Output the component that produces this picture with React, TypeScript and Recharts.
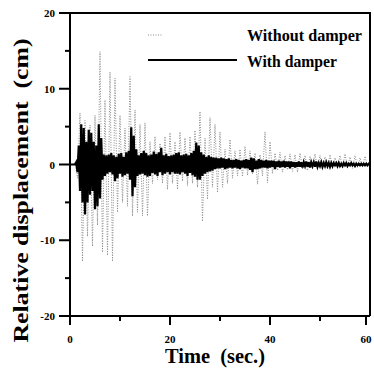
import { LineChart, Line, XAxis, YAxis, Legend, Label } from "recharts";

// time step of each record (s)
const STEP_WITHOUT = 0.5;
const STEP_WITH = 0.25;

const SERIES = ["Without damper", "With damper"];
const X_TICKS = [0, 10, 20, 30, 40, 50, 60];
const Y_TICKS = [-20, -15, -10, -5, 0, 5, 10, 15, 20];

// relative displacement (cm) without damper, every 0.5 s from t = 0
const withoutDamper = [
    0, 0, 0.2, -1.8, 6.8, -12.8, 5.8, -9.5, 5.2, -10.8,
    6.5, -8, 14.9, -11.6, 8.5, -12, 12.2, -12.8, 11.4, -6.3,
    6.5, -5, 4.8, -5.5, 11.6, -6.8, 7.2, -6.3, 5.3, -6.8,
    5.5, -6.8, 3, -2.5, 3.7, -2, 2.8, -2.5, 3.7, -3.3,
    4.2, -2.5, 3, -3.3, 4.3, -2.2, 3.5, -2.8, 3.7, -2.5,
    4.5, -3, 7, -7.5, 3.5, -4.6, 6.2, -3, 5.3, -3.7,
    4.3, -3, 2, -2.5, 3.3, -1.8, 1.8, -1.5, 2, -1.6,
    2.4, -1.4, 1.8, -1.2, 1.5, -2.6, 1.3, -1.5, 4.3, -2.4,
    3, -1.2, 1.5, -0.8, 1.6, -1, 1.2, -0.7, 1.4, -0.9,
    1.3, -1, 1.5, -0.6, 1.2, -0.8, 1.1, -0.6, 1.4, -0.5,
    1.2, -0.5, 1, -0.6, 1.3, -0.5, 0.9, -0.4, 1.2, -0.5,
    1.4, -0.4, 1, -0.5, 1.2, -0.4, 0.9, -0.3, 1.1, -0.3,
    0.3,
];

// relative displacement (cm) with damper, every 0.25 s from t = 0
const withDamper = [
    0, 0, 0, 0, 0, 0.3, -1, 2.5, -3.5, 5.3,
    -5, 4.8, -6.6, 3, -5, 4.6, -4, 4.2, -3.5, 3,
    -5.9, 2.5, -5.5, 5.3, -4.5, 3.5, -2, 1.3, -1.5, 1.2,
    -1.2, 1.3, -1, 1.5, -1.3, 1.2, -2.2, 1, -1.8, 1.4,
    -1.2, 1.5, -1.6, 1, -1.4, 1.6, -1.2, 1.8, -2, 4.9,
    -4.2, 3.8, -3, 2, -1.5, 1.2, -1.3, 1.5, -1.2, 1.8,
    -1.4, 1.5, -1.6, 1.2, -1.5, 1.3, -1.1, 1.7, -1.3, 1.4,
    -1.5, 1.6, -1, 2.2, -1.4, 1.2, -1.2, 1.4, -1, 1.1,
    -1.3, 1.2, -1, 1.3, -1.2, 1.5, -1.2, 1.6, -1.3, 1.2,
    -1, 1.3, -1.2, 1.4, -1.5, 1.2, -1.1, 1.5, -1.4, 1.8,
    -1.6, 2.9, -2, 2.5, -2, 1.6, -1.5, 1.3, -1.2, 1,
    -1, 1.2, -0.9, 1, -0.8, 0.9, -0.6, 0.9, -0.5, 0.8,
    -0.5, 0.9, -0.4, 0.8, -0.6, 0.7, -0.5, 0.8, -0.4, 0.6,
    -0.5, 0.6, -0.4, 0.7, -0.5, 0.6, -0.6, 0.5, -0.4, 0.6,
    -0.5, 0.7, -0.5, 0.6, -0.7, 0.9, -1, 0.8, -0.6, 0.5,
    -0.6, 0.7, -0.5, 0.6, -0.4, 0.5, -0.4, 0.6, -0.5, 0.5,
    -0.4, 0.5, -0.3, 0.5, -0.6, 0.4, -0.3, 0.5, -0.4, 0.4,
    -0.3, 0.5, -0.4, 0.4, -0.3, 0.4, -0.5, 0.4, -0.3, 0.3,
    -0.4, 0.3, -0.3, 0.4, -0.3, 0.3, -0.4, 0.3, -0.2, 0.4,
    -0.3, 0.3, -0.4, 0.3, -0.2, 0.3, -0.3, 0.4, -0.3, 0.2,
    -0.2, 0.3, -0.3, 0.2, -0.2, 0.3, -0.2, 0.2, -0.3, 0.2,
    -0.2, 0.2, -0.1, 0.2, -0.2, 0.2, -0.2, 0.1, -0.2, 0.2,
    -0.1, 0.2, -0.2, 0.1, -0.1, 0.2, -0.1, 0.1, -0.2, 0.1,
    -0.1, 0.1, -0.1, 0.1, -0.1, 0.1, -0.1, 0.1, -0.1, 0.1,
    0,
];

const withoutData = withoutDamper.map((v, i) => ({ t: i * STEP_WITHOUT, v }));
const withData = withDamper.map((v, i) => ({ t: i * STEP_WITH, v }));

const FONT = '"Liberation Serif", "Times New Roman", serif';
const NB = "\u00a0";
const CHART_W = 374;
const CHART_H = 370;
const MARGIN = { top: 13, right: 4, bottom: 0, left: 0 };
const Y_AXIS_W = 70;
const X_AXIS_H = 54;

const XTick = ({ x, y, payload }: any) => {
    const major = payload.value % 20 === 0;
    return (
        <g>
            <line x1={x} x2={x} y1={y} y2={y + (major ? 9 : 5)} stroke="#000" strokeWidth={2} />
            {major && (
                <text x={x} y={y + 27} textAnchor="middle" fontFamily={FONT} fontWeight="bold" fontSize={11} fill="#000">
                    {payload.value}
                </text>
            )}
        </g>
    );
};

const YTick = ({ x, y, payload }: any) => {
    const major = payload.value % 10 === 0;
    return (
        <g>
            <line x1={x - (major ? 11 : 5)} x2={x} y1={y} y2={y} stroke="#000" strokeWidth={2} />
            {major && (
                <text x={x - 15} y={y + 4} textAnchor="end" fontFamily={FONT} fontWeight="bold" fontSize={11} fill="#000">
                    {payload.value}
                </text>
            )}
        </g>
    );
};

const YTitle = ({ viewBox }: any) => {
    const cx = viewBox.x + 28;
    const cy = viewBox.y + viewBox.height / 2 + 26;
    return (
        <text
            x={cx}
            y={cy}
            transform={`rotate(-90 ${cx} ${cy})`}
            textAnchor="middle"
            fontFamily={FONT}
            fontWeight="bold"
            fontSize={20}
            textLength={304}
            lengthAdjust="spacingAndGlyphs"
            fill="#000"
        >
            {`Relative displacement${NB}${NB}(cm)`}
        </text>
    );
};

const XTitle = ({ viewBox }: any) => (
    <text
        x={viewBox.x + viewBox.width / 2 - 5}
        y={viewBox.y + 47}
        textAnchor="middle"
        fontFamily={FONT}
        fontWeight="bold"
        fontSize={21}
        textLength={100}
        lengthAdjust="spacingAndGlyphs"
        fill="#000"
    >
        {`Time${NB}${NB}(sec.)`}
    </text>
);

const LegendBox = ({ payload }: any) => {
    const rows = [
        { y: 35, textY: 41, len: 14, textLen: 115 },
        { y: 60, textY: 67, len: 89, textLen: 90 },
    ];
    const items = [...(payload || [])].sort(
        (a: any, b: any) => SERIES.indexOf(a.value) - SERIES.indexOf(b.value)
    );
    return (
        <svg width={CHART_W} height={80}>
            {items.map((entry: any, i: number) => {
                const r = rows[i];
                const dash = entry.payload?.strokeDasharray;
                return (
                    <g key={entry.value}>
                        <line
                            x1={148}
                            x2={148 + r.len}
                            y1={r.y}
                            y2={r.y}
                            stroke={entry.color}
                            strokeWidth={dash ? 1 : 2}
                            strokeDasharray={dash}
                        />
                        <text
                            x={247}
                            y={r.textY}
                            fontFamily={FONT}
                            fontWeight="bold"
                            fontSize={17}
                            textLength={r.textLen}
                            lengthAdjust="spacingAndGlyphs"
                            fill="#000"
                        >
                            {entry.value}
                        </text>
                    </g>
                );
            })}
        </svg>
    );
};

// top and right sides of the plot box, laid over the chart
const plotRight = CHART_W - MARGIN.right;
const plotBottom = CHART_H - MARGIN.bottom - X_AXIS_H;
const frameStyle = {
    position: "absolute" as const,
    left: MARGIN.left + Y_AXIS_W - 1,
    top: MARGIN.top - 1,
    width: plotRight - (MARGIN.left + Y_AXIS_W) - 1 + 1,
    height: plotBottom - MARGIN.top - 1,
    borderTop: "2px solid #000",
    borderRight: "2px solid #000",
    pointerEvents: "none" as const,
};

export default function App() {
    return (
        <div style={{ position: "absolute", left: 0, top: 0, width: CHART_W, height: CHART_H, background: "#fff" }}>
            <LineChart width={CHART_W} height={CHART_H} data={withData} margin={MARGIN}>
                <XAxis
                    dataKey="t"
                    type="number"
                    domain={[0, 60]}
                    ticks={X_TICKS}
                    height={X_AXIS_H}
                    tickSize={0}
                    tickMargin={0}
                    tick={<XTick />}
                    axisLine={{ stroke: "#000", strokeWidth: 2 }}
                >
                    <Label content={<XTitle />} />
                </XAxis>
                <YAxis
                    type="number"
                    domain={[-20, 20]}
                    ticks={Y_TICKS}
                    width={Y_AXIS_W}
                    tickSize={0}
                    tickMargin={0}
                    tick={<YTick />}
                    axisLine={{ stroke: "#000", strokeWidth: 2 }}
                >
                    <Label content={<YTitle />} />
                </YAxis>
                <Legend
                    layout="horizontal"
                    verticalAlign="middle"
                    content={<LegendBox />}
                    wrapperStyle={{ left: 0, top: 0, width: CHART_W, height: 80 }}
                />
                <Line
                    data={withoutData}
                    dataKey="v"
                    name="Without damper"
                    type="linear"
                    stroke="#8a8a8a"
                    strokeWidth={1}
                    strokeDasharray="1 1.5"
                    dot={false}
                    isAnimationActive={false}
                />
                <Line
                    dataKey="v"
                    name="With damper"
                    type="linear"
                    stroke="#000"
                    strokeWidth={2.2}
                    dot={false}
                    isAnimationActive={false}
                />
            </LineChart>
            <div style={frameStyle} />
        </div>
    );
}
